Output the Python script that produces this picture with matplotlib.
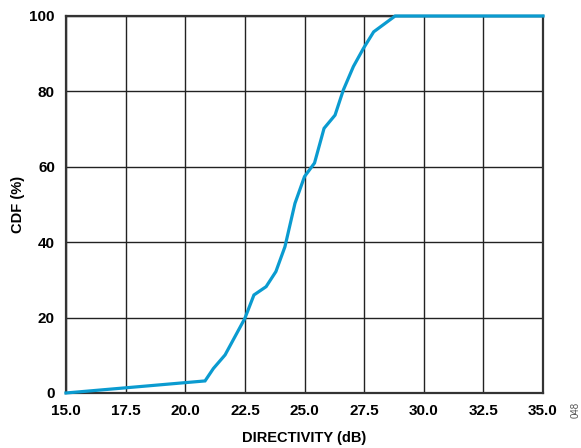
import matplotlib
matplotlib.use("Agg")
import matplotlib.pyplot as plt

# Directivity (dB) vs CDF (%)
directivity = [15.0, 20.83, 21.18, 21.67, 22.5, 22.88, 23.39, 23.8, 24.18,
               24.6, 25.0, 25.42, 25.82, 26.28, 26.63, 27.05, 27.47, 27.9,
               28.8, 35.0]
cdf = [0, 3.2, 6.5, 10.1, 19.8, 26.0, 28.2, 32.2, 38.8,
       50.3, 57.4, 61.0, 70.2, 73.7, 80.4, 86.6, 91.4, 95.8,
       100, 100]

xticks = [15.0, 17.5, 20.0, 22.5, 25.0, 27.5, 30.0, 32.5, 35.0]
yticks = [0, 20, 40, 60, 80, 100]

plt.rcParams['font.family'] = ['Liberation Sans', 'DejaVu Sans']
plt.rcParams['font.weight'] = 'bold'

fig = plt.figure(figsize=(5.81, 4.48), dpi=100)
ax = fig.add_axes([0.1136, 0.1228, 0.821, 0.8415])

ax.plot(directivity, cdf, color='#0a9bd0', lw=2.3, solid_joinstyle='miter', clip_on=False, zorder=3)

ax.set_xlim(15, 35)
ax.set_ylim(0, 100)
ax.set_xticks(xticks)
ax.set_yticks(yticks)
ax.set_xticklabels([f"{t:.1f}" for t in xticks], fontsize=11, fontweight='bold')
ax.set_yticklabels([str(t) for t in yticks], fontsize=11, fontweight='bold')
ax.tick_params(length=0, pad=8)
ax.grid(True, color='#222222', lw=1.0)
for s in ax.spines.values():
    s.set_linewidth(1.6)
    s.set_color('#333333')

ax.set_xlabel('DIRECTIVITY (dB)', fontsize=10.5, fontweight='bold', labelpad=9)
ax.set_ylabel('CDF (%)', fontsize=10.5, fontweight='bold', labelpad=3)

fig.text(0.99, 0.085, '048', rotation=90, fontsize=7, color='#555555',
         fontweight='normal', ha='center', va='center')

fig.savefig('out.png', dpi=100)
